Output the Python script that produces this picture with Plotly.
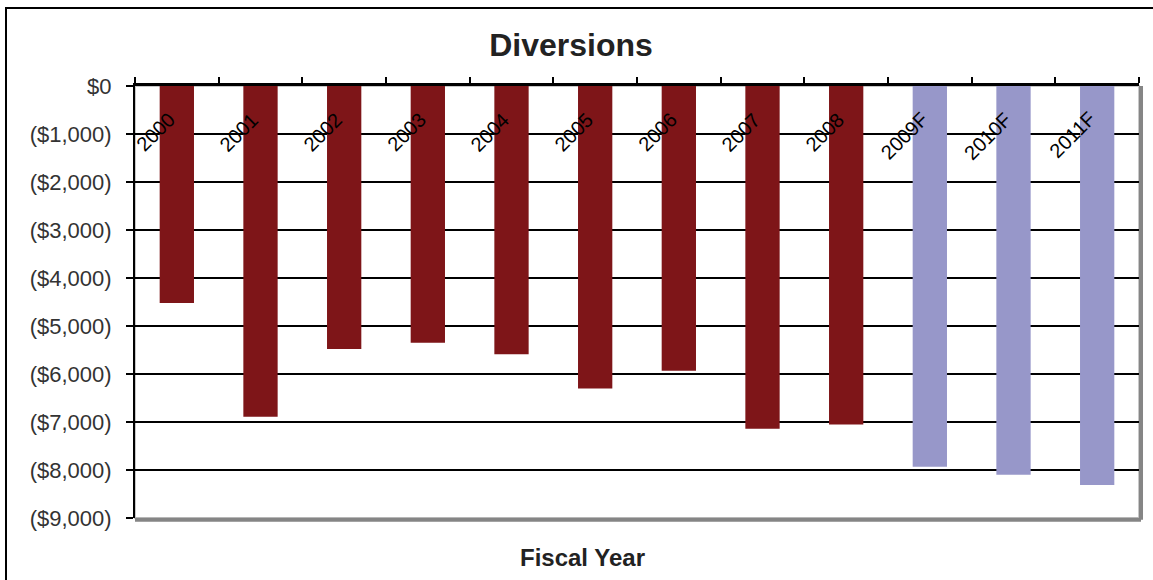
import plotly.graph_objects as go

years = ["2000", "2001", "2002", "2003", "2004", "2005", "2006", "2007", "2008", "2009F", "2010F", "2011F"]
diversions = [-4520, -6890, -5480, -5350, -5590, -6300, -5930, -7140, -7050, -7930, -8100, -8310]
is_forecast = [False] * 9 + [True] * 3
ytick_vals = [0, -1000, -2000, -3000, -4000, -5000, -6000, -7000, -8000, -9000]
ytick_text = ["$0", "($1,000)", "($2,000)", "($3,000)", "($4,000)", "($5,000)",
              "($6,000)", "($7,000)", "($8,000)", "($9,000)"]

ACTUAL = "#7E1518"
FORECAST = "#9797C9"
colors = [FORECAST if f else ACTUAL for f in is_forecast]

W, H = 1153, 580
ML, MR, MT, MB = 135, 14, 86, 62
PW, PH = W - ML - MR, H - MT - MB

fig = go.Figure()
fig.add_trace(go.Bar(x=years, y=diversions, marker=dict(color=colors, line=dict(width=0)),
                     hoverinfo="x+y"))

annotations = []
for i, yr in enumerate(years):
    annotations.append(dict(x=i, y=0, xref="x", yref="y", text=yr, showarrow=False,
                            textangle=-45, xanchor="right", yanchor="top",
                            xshift=5, yshift=-19,
                            font=dict(family="Arial, Liberation Sans", size=20, color="#000000")))

annotations.append(dict(text="<b>Fiscal Year</b>", xref="paper", yref="paper",
                        x=(582 - ML) / PW, y=-(557 - (H - MB)) / PH,
                        xanchor="center", yanchor="middle", showarrow=False,
                        font=dict(family="Arial, Liberation Sans", size=24, color="#222222")))

shapes = [
    dict(type="rect", xref="x domain", yref="y domain", x0=0, x1=1, y0=0, y1=1,
         line=dict(color="#C8C8C8", width=2), layer="below"),
    dict(type="line", xref="x domain", yref="y domain", x0=0, x1=1.002, y0=-0.004, y1=-0.004,
         line=dict(color="#858585", width=4), layer="above"),
    dict(type="line", xref="x domain", yref="y domain", x0=1.002, x1=1.002, y0=-0.004, y1=1,
         line=dict(color="#858585", width=4), layer="above"),
    dict(type="rect", xref="paper", yref="paper",
         x0=(6 - ML) / PW, x1=(W + 20 - ML) / PW,
         y0=-(MB + 20) / PH, y1=(PH + MT - 8) / PH,
         line=dict(color="#000000", width=2), layer="below"),
]

fig.update_layout(
    width=W, height=H,
    margin=dict(l=ML, r=MR, t=MT, b=MB, autoexpand=False),
    paper_bgcolor="white", plot_bgcolor="white",
    showlegend=False,
    bargap=0.59,
    title=dict(text="<b>Diversions</b>", x=571 / W, xanchor="center", y=1 - 45 / H, yanchor="middle",
               font=dict(family="Arial, Liberation Sans", size=32, color="#222222")),
    xaxis=dict(
        type="category", side="top", showticklabels=False, range=[-0.5, len(years) - 0.5],
        ticks="outside", tickson="boundaries", ticklen=6, tickwidth=2, tickcolor="#000000",
        showline=True, linecolor="#000000", linewidth=3,
        showgrid=False, zeroline=False, automargin=False,
    ),
    yaxis=dict(
        range=[-9000, 0], tickvals=ytick_vals, ticktext=ytick_text,
        ticks="outside", ticklen=7, tickwidth=2, tickcolor="#000000",
        tickfont=dict(family="Arial, Liberation Sans", size=22, color="#333333"),
        showline=True, linecolor="#000000", linewidth=2,
        showgrid=True, gridcolor="#000000", gridwidth=2,
        zeroline=False, ticklabelstandoff=10, automargin=False,
    ),
    annotations=annotations,
    shapes=shapes,
)

fig.write_html("out.html", config={"displayModeBar": False},
               post_script="document.body.style.margin='0';document.body.style.overflow='hidden';")
